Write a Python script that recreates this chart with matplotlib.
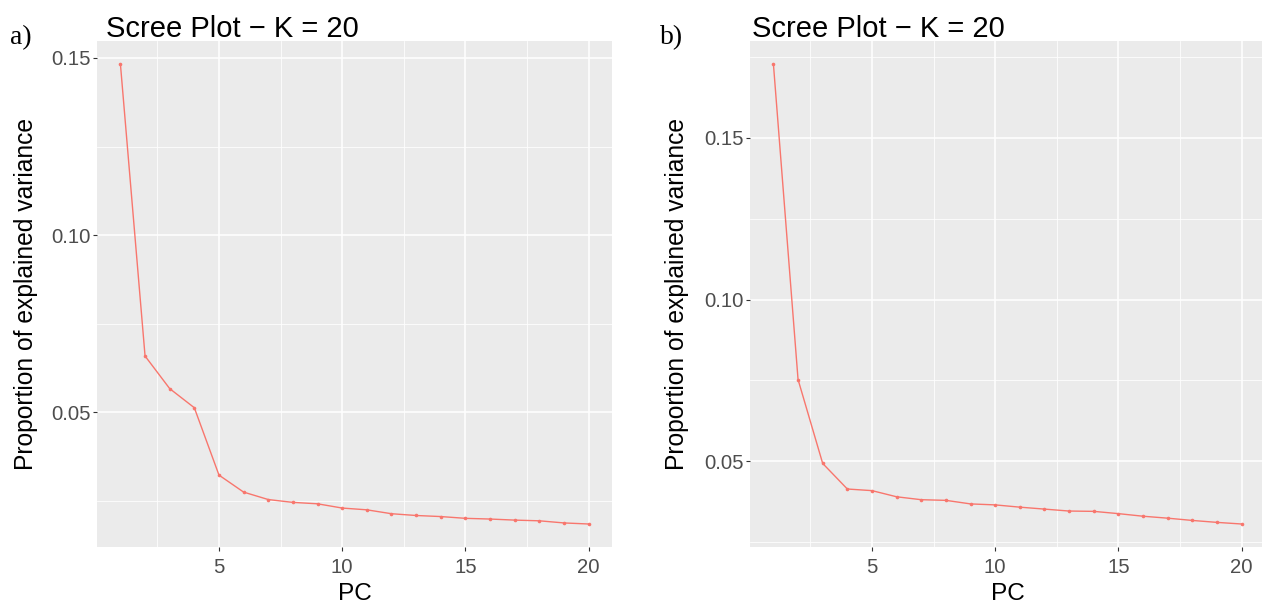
import matplotlib
matplotlib.use("Agg")
import matplotlib.pyplot as plt
from matplotlib.ticker import MultipleLocator
import numpy as np

plt.rcParams['font.family'] = ['Liberation Sans', 'DejaVu Sans']

pcs = list(range(1, 21))
var_a = [0.1483, 0.0659, 0.0567, 0.0513, 0.0323, 0.0275, 0.0254, 0.0246, 0.0242, 0.0230,
         0.0225, 0.0214, 0.0209, 0.0206, 0.0201, 0.0199, 0.0196, 0.0194, 0.0188, 0.0185]
var_b = [0.1727, 0.0753, 0.0494, 0.0415, 0.0410, 0.0391, 0.0382, 0.0380, 0.0369, 0.0366,
         0.0359, 0.0353, 0.0347, 0.0346, 0.0339, 0.0331, 0.0325, 0.0318, 0.0312, 0.0307]
x_ticks = [5, 10, 15, 20]
y_ticks = [0.05, 0.10, 0.15]
title = "Scree Plot \u2212 K = 20"
xlab = "PC"
ylab = "Proportion of explained variance"
panel_tags = ["a)", "b)"]

W, H = 1262, 606
fig = plt.figure(figsize=(W / 100, H / 100), dpi=100)

line_col = "#F8766D"
bg = "#EBEBEB"

def px_ax(left, top, right, bottom):
    return [left / W, 1 - bottom / H, (right - left) / W, (bottom - top) / H]

panels = [
    (var_a, px_ax(97, 41, 612, 547), (106, 37), (10, 44), 26),
    (var_b, px_ax(750, 41, 1265, 547), (752, 37), (660, 44), 677),
]

for vals, rect, tpos, tagpos, ylx in panels:
    ax = fig.add_axes(rect)
    ax.set_facecolor(bg)
    vmin, vmax = min(vals), max(vals)
    span = vmax - vmin
    ax.set_ylim(vmin - 0.05 * span, vmax + 0.05 * span)
    ax.set_xlim(1 - 0.05 * 19, 20 + 0.05 * 19)
    ax.set_xticks(x_ticks)
    ax.set_xticklabels([str(t) for t in x_ticks])
    ax.set_yticks(y_ticks)
    ax.set_yticklabels([f"{t:.2f}" for t in y_ticks])
    ax.xaxis.set_minor_locator(MultipleLocator(2.5))
    ax.yaxis.set_minor_locator(MultipleLocator(0.025))
    ax.grid(which="major", color="white", linewidth=1.1)
    ax.grid(which="minor", color="white", linewidth=0.55)
    ax.set_axisbelow(True)
    for s in ax.spines.values():
        s.set_visible(False)
    ax.tick_params(which="major", length=3, width=0.8, color="#333333",
                   labelcolor="#4D4D4D", labelsize=14.6)
    ax.tick_params(axis="y", which="major", pad=1.8)
    ax.tick_params(axis="x", which="major", pad=4.6)
    ax.tick_params(which="minor", length=0)
    ax.plot(pcs, vals, color=line_col, linewidth=1.0, marker="o", markersize=2.6,
            markeredgewidth=0, zorder=3)
    ax.set_xlabel(xlab, fontsize=17.6, color="black", labelpad=4.5)
    fig.text(ylx / W, 1 - 294 / H, ylab, rotation=90, fontsize=17.7,
             ha="center", va="center")
    fig.text(tpos[0] / W, 1 - tpos[1] / H, title, fontsize=21, ha="left",
             va="baseline")

for (vals, rect, tpos, tagpos, ylx), tag in zip(panels, panel_tags):
    fig.text(tagpos[0] / W, 1 - tagpos[1] / H, tag, fontsize=20,
             family=['Liberation Serif', 'DejaVu Serif'], ha="left", va="baseline")

fig.savefig("out.png", dpi=100)
